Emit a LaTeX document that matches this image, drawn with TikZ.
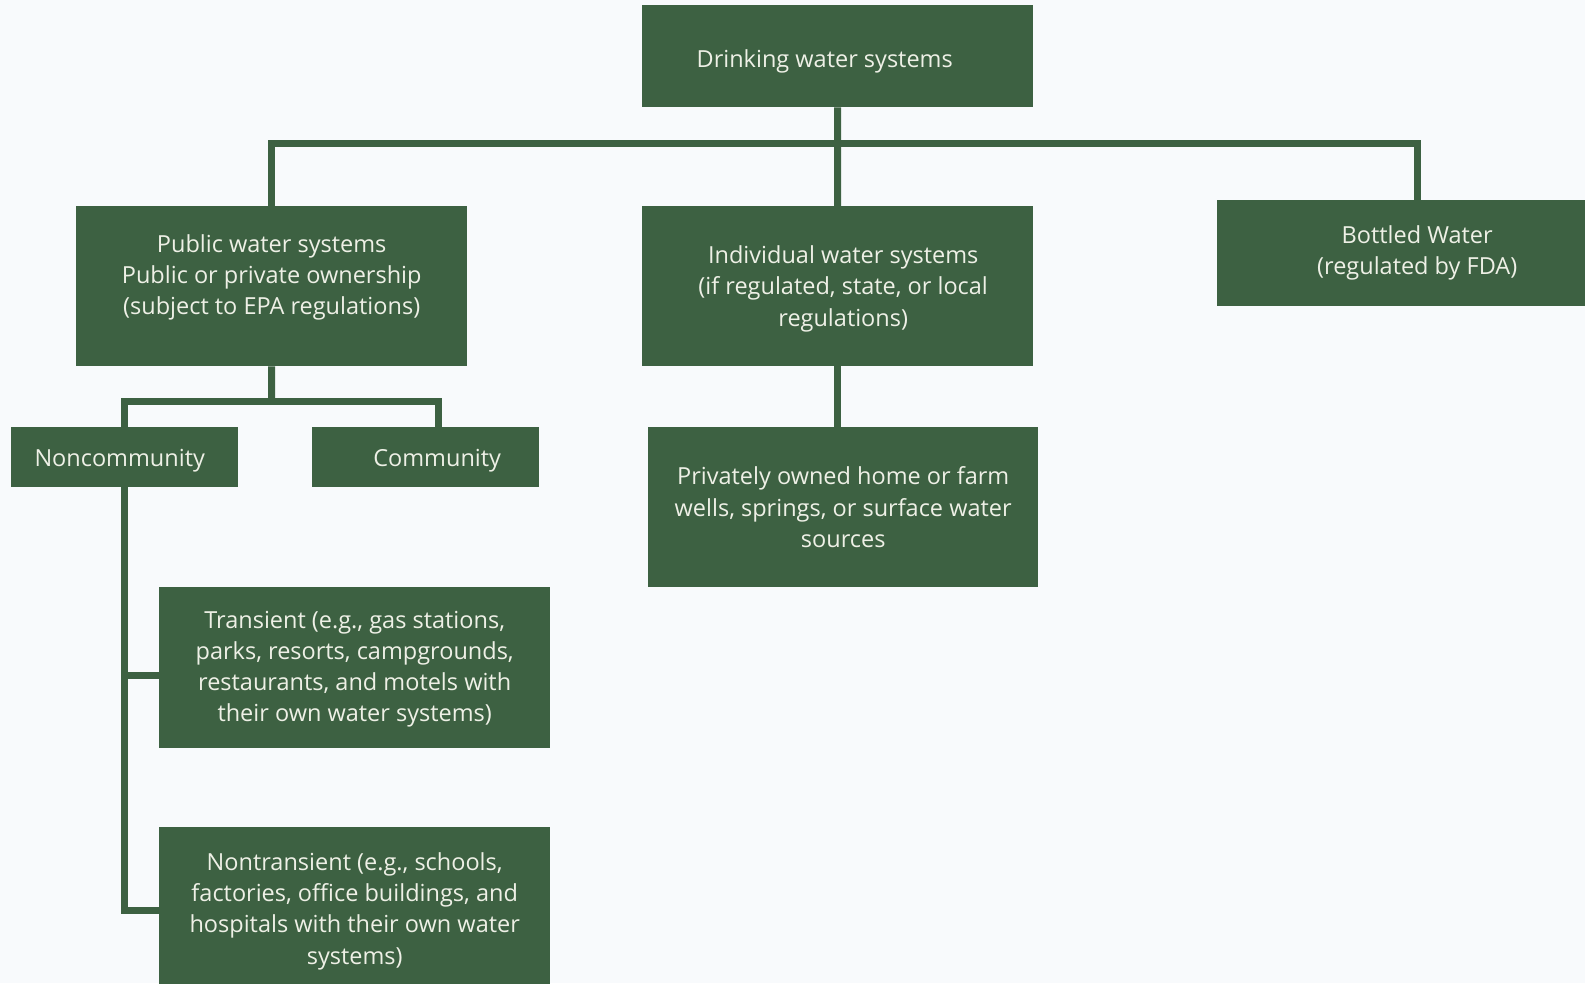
\documentclass[tikz,border=0pt]{standalone}
\usepackage{fontspec}
\setmainfont{Open Sans}
\definecolor{boxgreen}{HTML}{3D6142}
\definecolor{bgcol}{HTML}{F8FAFC}
\definecolor{txtcol}{HTML}{EEF0E6}
\tikzset{
  box/.style={anchor=north west, fill=boxgreen, draw=none, inner sep=0pt},
  txt/.style={text=txtcol, align=center, inner sep=0pt, font=\fontsize{23.5}{31.3}\selectfont},
  conn/.style={draw=boxgreen, line width=7pt, line join=miter}
}
\begin{document}
\begin{tikzpicture}[x=1pt,y=-1pt]
\useasboundingbox (0,0) rectangle (1585,983);
\fill[bgcol] (0,0) rectangle (1585,983);
% boxes
\node[box, minimum width=391pt, minimum height=102pt] (top) at (642,5) {};
\node[box, minimum width=391pt, minimum height=160pt] (pub) at (76,206) {};
\node[box, minimum width=391pt, minimum height=160pt] (ind) at (642,206) {};
\node[box, minimum width=400pt, minimum height=106pt] (bot) at (1217,200) {};
\node[box, minimum width=227pt, minimum height=60pt] (non) at (11,427) {};
\node[box, minimum width=227pt, minimum height=60pt] (comm) at (312,427) {};
\node[box, minimum width=390pt, minimum height=160pt] (priv) at (648,427) {};
\node[box, minimum width=391pt, minimum height=161pt] (trans) at (159,587) {};
\node[box, minimum width=391pt, minimum height=162pt] (ntr) at (159,827) {};
% texts
\node[txt] (topt) at ([xshift=-13pt,yshift=-5pt]top.center) {Drinking water systems};
\node[txt] (pubt) at ([yshift=9pt]pub.center) {Public water systems\\Public or private ownership\\(subject to EPA regulations)};
\node[txt] (indt) at ([xshift=5.5pt,yshift=-2.5pt]ind.center) {Individual water systems\\(if regulated, state, or local\\regulations)};
\node[txt] (bott) at (bot.center) {Bottled Water\\(regulated by FDA)};
\node[txt] (nont) at ([xshift=-5pt,yshift=-3pt]non.center) {Noncommunity};
\node[txt] (commt) at ([xshift=11.5pt,yshift=-3pt]comm.center) {Community};
\node[txt] (privt) at (priv.center) {Privately owned home or farm\\wells, springs, or surface water\\sources};
\node[txt] (transt) at ([yshift=-1.5pt]trans.center) {Transient (e.g., gas stations,\\parks, resorts, campgrounds,\\restaurants, and motels with\\their own water systems)};
\node[txt] (ntrt) at ([yshift=-3pt]ntr.center) {Nontransient (e.g., schools,\\factories, office buildings, and\\hospitals with their own water\\systems)};
% connectors
\coordinate (hb) at (837.5,143.5);
\draw[conn] (top.south) -- (hb);
\draw[conn] (pub.north) |- (hb) -| (bot.north);
\draw[conn] (hb) -- (ind.north);
\coordinate (pb) at (271.5,401.5);
\draw[conn] (pub.south) -- (pb);
\draw[conn] (non.north) |- (pb) -| ([xshift=12.5pt]comm.north);
\draw[conn] (ind.south) -- (ind.south |- priv.north);
\draw[conn] (non.south) |- ([yshift=-2pt]ntr.west);
\coordinate (tb) at ([yshift=-7.5pt]trans.west);
\draw[conn] (tb) -- (tb -| non.south);
\end{tikzpicture}
\end{document}
